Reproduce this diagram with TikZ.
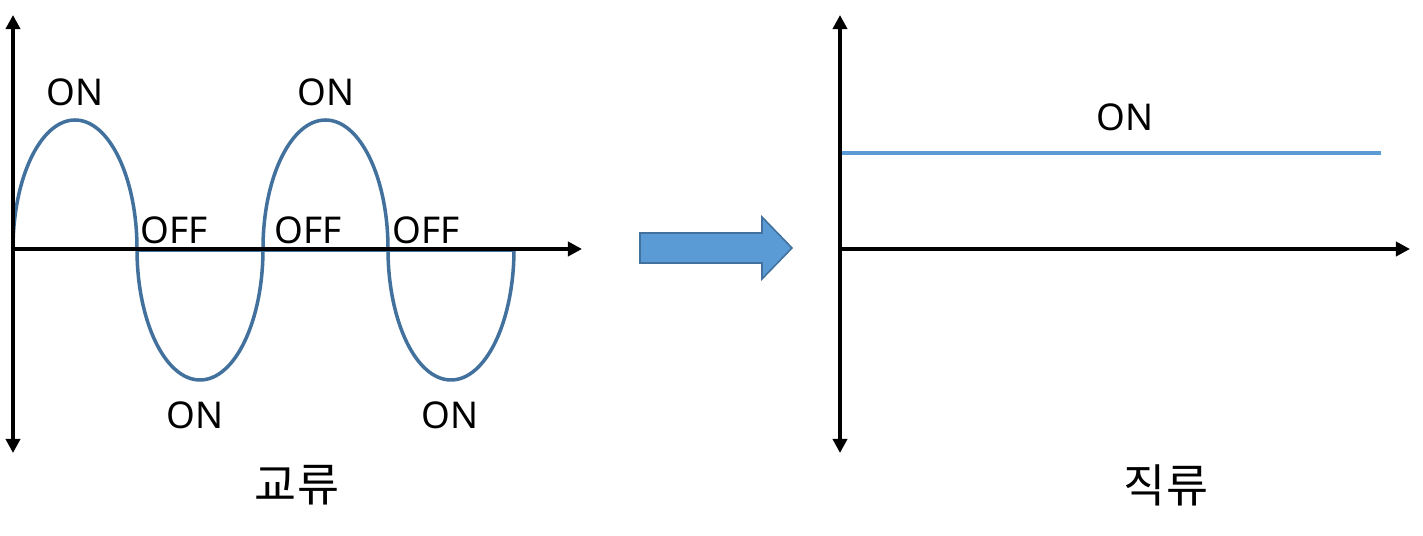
\documentclass[tikz,border=0pt]{standalone}
\usepackage{fontspec}
\setmainfont{Noto Sans}
\newfontfamily\krfont{Noto Sans CJK KR}
\usetikzlibrary{arrows.meta, positioning}
\definecolor{WaveBlue}{RGB}{65, 113, 156}
\definecolor{LightBlue}{RGB}{91, 155, 213}

\begin{document}
\begin{tikzpicture}[
    x=0.02cm, y=0.02cm,
    every node/.style={font=\fontsize{21}{24}\selectfont, inner sep=0pt},
    axisline/.style={line width=2.1pt, {Triangle[length=8pt,width=8pt]}-{Triangle[length=8pt,width=8pt]}},
    xaxisline/.style={line width=2.1pt, -{Triangle[length=8pt,width=8pt]}},
    wave/.style={draw=WaveBlue, line width=2pt},
    dcline/.style={draw=LightBlue, line width=2.1pt},
    bigarrow/.style={draw=WaveBlue, fill=LightBlue, line width=0.9pt},
    title/.style={font=\krfont\fontsize{26}{30}\selectfont}
]
\useasboundingbox (0,0) rectangle (1423,536);

% left: alternating current
\coordinate (ltop) at (13,521);
\coordinate (lbot) at (13,83);
\coordinate (lorig) at (13,287);
\coordinate (lend) at (582,287);
\draw[wave, line width=1.1pt] (137,285) -- (514,285);
\draw[wave] (lorig) arc[start angle=180, end angle=0, x radius=62, y radius=129]
    arc[start angle=180, end angle=360, x radius=63, y radius=131]
    arc[start angle=180, end angle=0, x radius=62.5, y radius=129]
    arc[start angle=180, end angle=360, x radius=63, y radius=131];
\draw[axisline] (lbot) -- (ltop);
\draw[xaxisline] (lorig) -- (lend);

\node (on1) at (75,444) {ON};
\node (on2) at (326,444) {ON};
\node (on3) at (195,121) {ON};
\node (on4) at (450,121) {ON};
\node (off1) at (174,306) {OFF};
\node (off2) at (308,306) {OFF};
\node (off3) at (426,306) {OFF};
\node[title] (ac) at (297,51) {교류};

% middle arrow
\draw[bigarrow] (640,273) -- (762,273) -- (762,257) -- (792,288)
    -- (762,319) -- (762,303) -- (640,303) -- cycle;

% right: direct current
\coordinate (rtop) at (840,521);
\coordinate (rbot) at (840,83);
\coordinate (rorig) at (840,287);
\coordinate (rend) at (1410,287);
\coordinate (dcstart) at (842,383);
\coordinate (dcend) at (1381,383);
\draw[axisline] (rbot) -- (rtop);
\draw[xaxisline] (rorig) -- (rend);
\draw[dcline] (dcstart) -- (dcend);
\node (on5) at (1125,419) {ON};
\node[title] (dc) at (1166,51) {직류};
\end{tikzpicture}
\end{document}
